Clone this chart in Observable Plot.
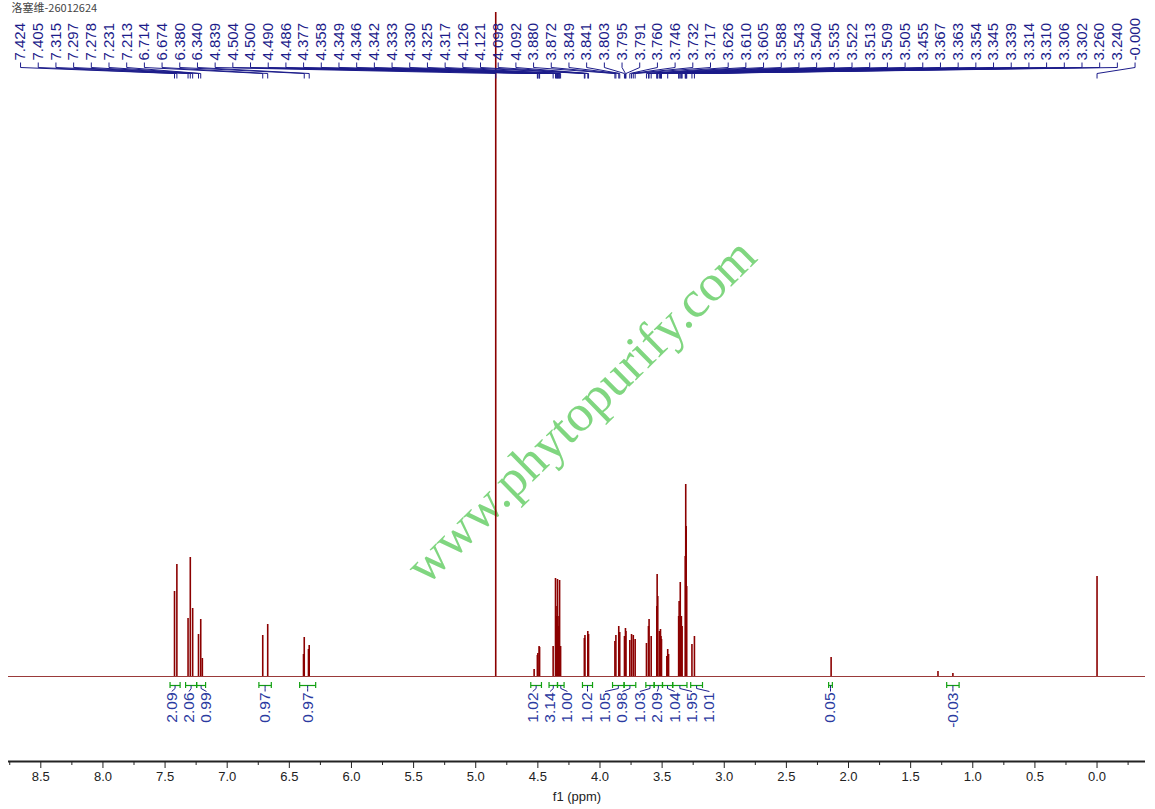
<!DOCTYPE html>
<html>
<head>
<meta charset="utf-8">
<script src="https://cdn.jsdelivr.net/npm/d3@7"></script>
<script src="https://cdn.jsdelivr.net/npm/@observablehq/plot@0.6"></script>
<style>
  body { margin: 0; background: white; }
</style>
</head>
<body>
<div id="chart"></div>
<script>
// peak list (ppm, height in arbitrary units)
const peakPpm = [7.424, 7.405, 7.315, 7.297, 7.278, 7.231, 7.213, 7.200,
  6.714, 6.674, 6.386, 6.380, 6.346, 6.340,
  4.839,
  4.530, 4.504, 4.500, 4.490, 4.486,
  4.377, 4.358, 4.349, 4.346, 4.342, 4.333, 4.330, 4.325, 4.317,
  4.126, 4.121, 4.098, 4.092,
  3.880, 3.872, 3.849, 3.841, 3.803, 3.795, 3.791,
  3.760, 3.746, 3.732, 3.717,
  3.626, 3.610, 3.605, 3.588,
  3.543, 3.540, 3.535, 3.522, 3.513, 3.509, 3.505,
  3.462, 3.455, 3.448,
  3.367, 3.363, 3.354, 3.345, 3.339,
  3.314, 3.310, 3.306, 3.302,
  3.260, 3.240,
  2.140, 1.280, 1.160, 0.000];
const peakHeight = [85, 112, 58, 119, 68, 42, 57, 18,
  41, 52, 22, 39, 27, 31,
  664,
  7, 21, 23, 30, 29,
  30, 98, 60, 70, 97, 50, 60, 96, 30,
  38, 41, 45, 42,
  35, 41, 50, 44, 40, 48, 45,
  36, 42, 41, 37,
  33, 50, 57, 40,
  70, 102, 80, 45, 47, 40, 37,
  20, 27, 22,
  60, 75, 94, 60, 50,
  120, 192, 150, 90,
  32, 40,
  19, 5, 3, 100];

// picked peak labels along the top
const peakLabels = ["7.424", "7.405", "7.315", "7.297", "7.278", "7.231", "7.213",
  "6.714", "6.674", "6.380", "6.340", "4.839", "4.504", "4.500", "4.490", "4.486",
  "4.377", "4.358", "4.349", "4.346", "4.342", "4.333", "4.330", "4.325", "4.317",
  "4.126", "4.121", "4.098", "4.092", "3.880", "3.872", "3.849", "3.841", "3.803",
  "3.795", "3.791", "3.760", "3.746", "3.732", "3.717", "3.626", "3.610", "3.605",
  "3.588", "3.543", "3.540", "3.535", "3.522", "3.513", "3.509", "3.505", "3.455",
  "3.367", "3.363", "3.354", "3.345", "3.339", "3.314", "3.310", "3.306", "3.302",
  "3.260", "3.240", "-0.000"];

// integration regions
const intFrom = [7.460, 7.335, 7.246, 6.745, 6.417, 4.557, 4.410, 4.342, 4.141,
  3.899, 3.806, 3.631, 3.564, 3.497, 3.414, 3.270, 2.160, 1.210];
const intTo = [7.379, 7.246, 7.174, 6.645, 6.288, 4.471, 4.342, 4.289, 4.060,
  3.806, 3.712, 3.564, 3.497, 3.416, 3.300, 3.175, 2.130, 1.110];
const intValue = [2.09, 2.06, 0.99, 0.97, 0.97, 1.02, 3.14, 1.00, 1.02,
  1.05, 0.98, 1.03, 2.09, 1.04, 1.95, 1.01, 0.05, -0.03];

const xTicks = d3.range(0, 8.51, 0.5);
const xMinorTicks = d3.range(-0.25, 8.76, 0.5);

const peaks = peakPpm.map((ppm, i) => ({ppm, h: peakHeight[i]}));

// top labels sit evenly across the width
const labelLeft = 8.663, labelRight = -0.306;
const topLabels = peakLabels.map((t, i) => ({
  text: t,
  ppm: +t,
  lx: labelLeft + (labelRight - labelLeft) * i / (peakLabels.length - 1)
}));

// spread integral labels so they don't overlap (ppm, descending)
function spread(centers, gap) {
  let groups = centers.map((c, i) => ({start: i, n: 1, sum: c}));
  const first = g => g.sum / g.n + (g.n - 1) / 2 * gap;
  let merged = true;
  while (merged) {
    merged = false;
    for (let i = 0; i < groups.length - 1; i++) {
      const g = groups[i], h = groups[i + 1];
      const lastG = first(g) - (g.n - 1) * gap;
      if (lastG - first(h) < gap) {
        g.n += h.n; g.sum += h.sum;
        groups.splice(i + 1, 1);
        merged = true;
        break;
      }
    }
  }
  const out = [];
  groups.forEach(g => { for (let k = 0; k < g.n; k++) out.push(first(g) - k * gap); });
  return out;
}

const ints = intValue.map((v, i) => ({
  a: intFrom[i], b: intTo[i], c: (intFrom[i] + intTo[i]) / 2, text: v.toFixed(2)
}));
const intLx = spread(ints.map(d => d.c), 0.14);
ints.forEach((d, i) => d.lx = intLx[i]);

const navy = "#1c1c8a";
const red = "#8b0000";

const chart = Plot.plot({
  width: 1155,
  height: 809,
  marginLeft: 8,
  marginRight: 10,
  marginTop: 0,
  marginBottom: 48,
  x: {domain: [8.76, -0.39]},
  y: {domain: [-85, 676], axis: null},
  style: {background: "white", fontFamily: "Liberation Sans, Arial, sans-serif"},
  marks: [
    // watermark
    Plot.text(["www.phytopurify.com"], {
      frameAnchor: "middle", dx: 4, dy: 30, rotate: -44.5,
      fontSize: 52, fontFamily: "Liberation Serif, serif", fill: "#80d680"
    }),
    Plot.text(["洛塞维-26012624"], {
      frameAnchor: "top-left", dx: 3, dy: 4, lineAnchor: "top", textAnchor: "start",
      fontSize: 11, fill: "#444", fontFamily: "Noto Sans CJK SC"
    }),

    // spectrum
    Plot.ruleY([0], {stroke: "#9a3a3a", strokeWidth: 1}),
    Plot.ruleX(peaks, {x: "ppm", y1: 0, y2: "h", stroke: red, strokeWidth: 1.6}),

    // peak labels + leaders
    Plot.text(topLabels, {
      x: "lx", y: 616, text: "text", rotate: -90, textAnchor: "start",
      lineAnchor: "middle", fontSize: 15, fill: navy
    }),
    Plot.link(topLabels, {x1: "lx", x2: "lx", y1: 614, y2: 609, stroke: navy, strokeWidth: 1}),
    Plot.link(topLabels, {x1: "lx", x2: "ppm", y1: 609, y2: 603, stroke: navy, strokeWidth: 1}),
    Plot.link(topLabels, {x1: "ppm", x2: "ppm", y1: 603, y2: 598, stroke: navy, strokeWidth: 1}),

    // integrals
    Plot.link(ints, {x1: "a", x2: "b", y1: -9, y2: -9, stroke: "#11a011", strokeWidth: 1.2}),
    Plot.ruleX(ints, {x: "a", y1: -6, y2: -12, stroke: "#11a011", strokeWidth: 1.2}),
    Plot.ruleX(ints, {x: "b", y1: -6, y2: -12, stroke: "#11a011", strokeWidth: 1.2}),
    Plot.link(ints, {x1: "c", x2: "c", y1: -9, y2: -12, stroke: navy, strokeWidth: 1}),
    Plot.link(ints, {x1: "c", x2: "lx", y1: -12, y2: -15, stroke: navy, strokeWidth: 1}),
    Plot.text(ints, {
      x: "lx", y: -16, text: "text", rotate: -90, textAnchor: "end",
      lineAnchor: "middle", fontSize: 15.5, fill: "#2b3aa0"
    }),

    // axis
    Plot.ruleY([-85], {stroke: "#222", strokeWidth: 2}),
    Plot.axisX({
      ticks: xTicks, tickFormat: d => d.toFixed(1), tickSize: 7, tickPadding: 3,
      fontSize: 13, stroke: "#222", color: "#222",
      label: "f1 (ppm)", labelAnchor: "center", labelOffset: 39, labelArrow: "none"
    }),
    Plot.axisX({ticks: xMinorTicks, tickSize: 4, text: null, label: null, stroke: "#222"})
  ]
});

d3.select("#chart").append(() => chart);
</script>
</body>
</html>
